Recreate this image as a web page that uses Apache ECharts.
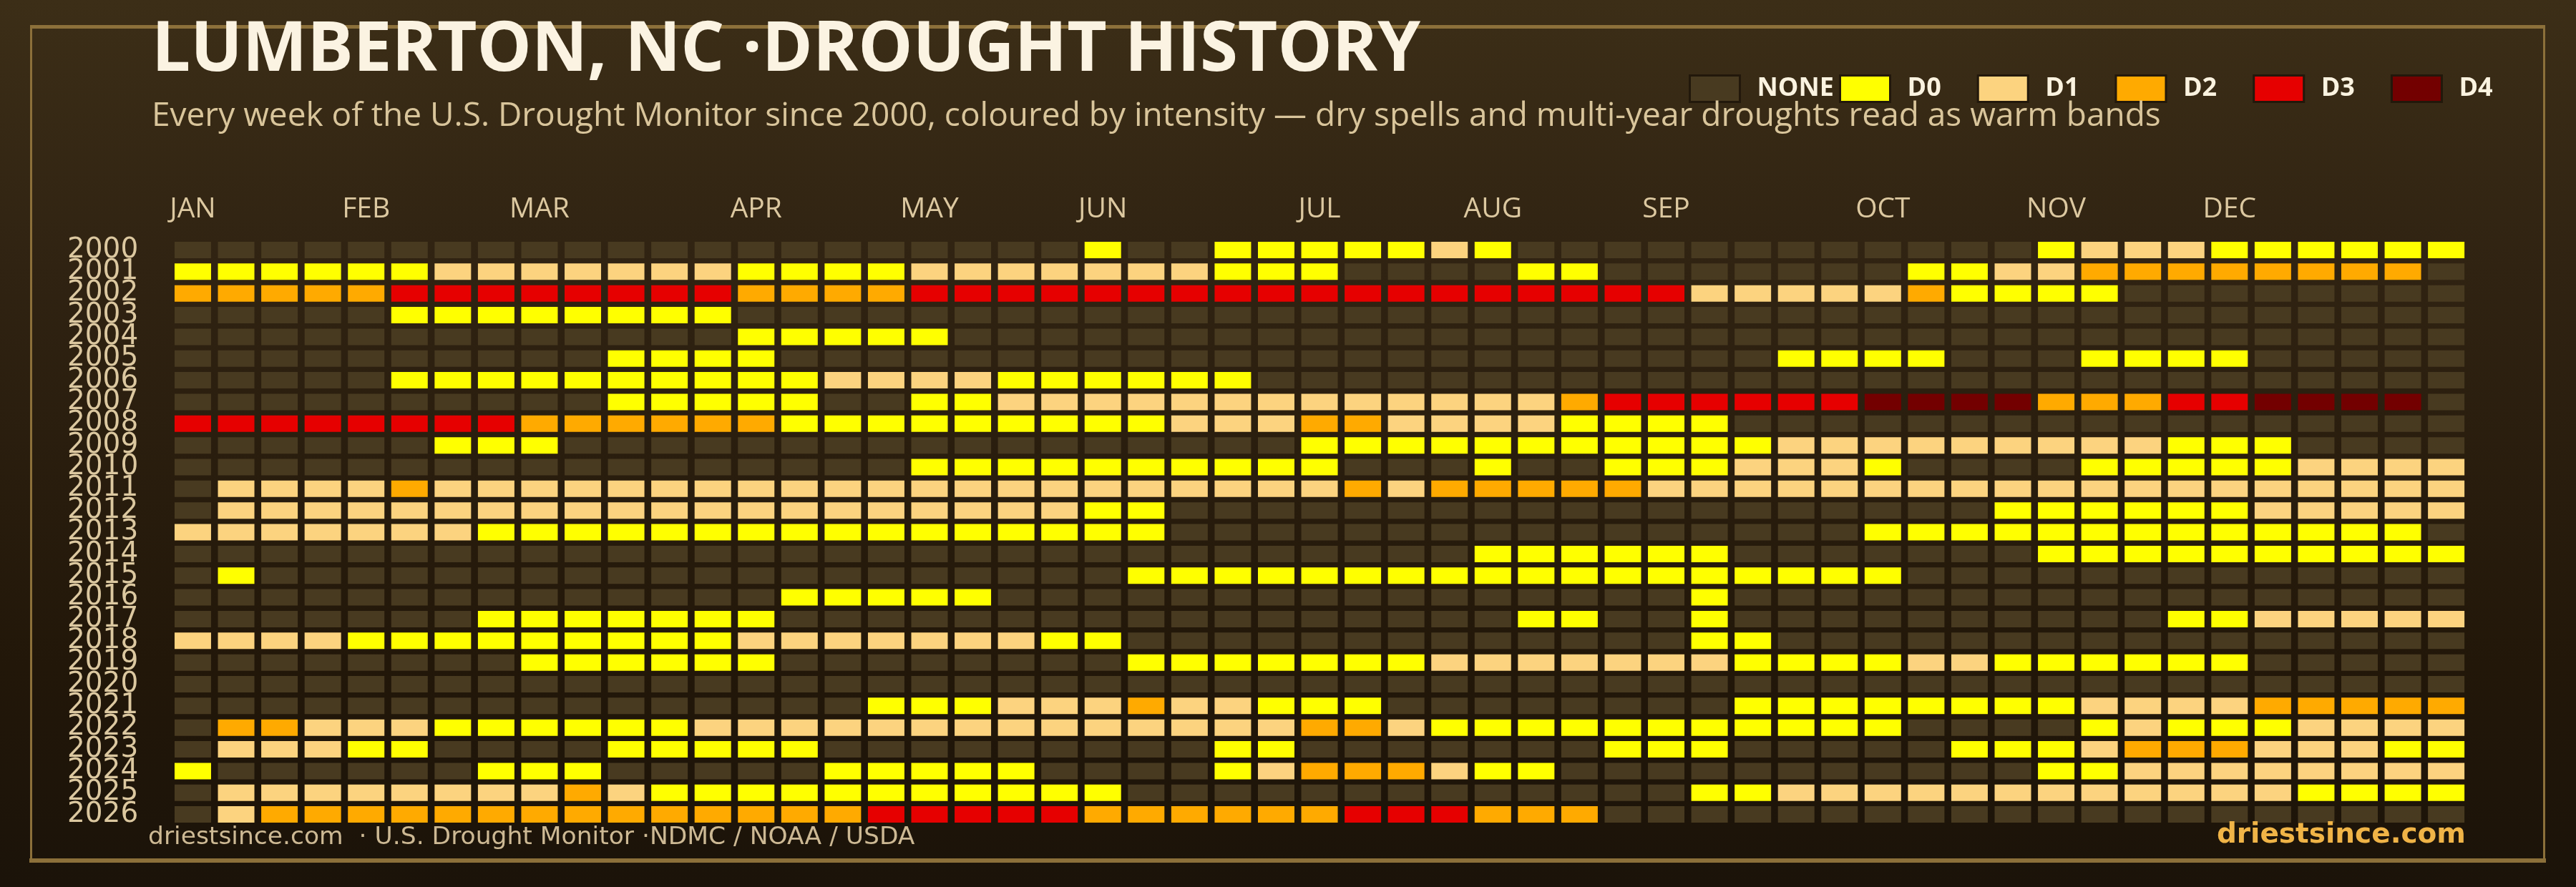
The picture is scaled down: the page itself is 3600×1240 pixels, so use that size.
<!DOCTYPE html>
<html><head><meta charset="utf-8">
<script src="https://cdn.jsdelivr.net/npm/echarts@6/dist/echarts.min.js"></script>
<style>html,body{margin:0;padding:0;background:#1c140a}#c{width:3600px;height:1240px}</style>
</head><body><div id="c"></div>
<script>
// ---------------- DATA ----------------
const YEARS = ['2000','2001','2002','2003','2004','2005','2006','2007','2008','2009','2010','2011','2012','2013',
  '2014','2015','2016','2017','2018','2019','2020','2021','2022','2023','2024','2025','2026'];
const WEEK_COUNT = 53;
const MONTHS = ['JAN','FEB','MAR','APR','MAY','JUN','JUL','AUG','SEP','OCT','NOV','DEC'];
const MONTH_START_WEEK = [0, 4, 8, 13, 17, 21, 26, 30, 34, 39, 43, 47];
const LEVELS = ['NONE', 'D0', 'D1', 'D2', 'D3', 'D4'];
// One string per year, one character per week ('-' = none, '0'..'4' = D0..D4); spaces only group 10 weeks.
const DROUGHT_WEEKS = [
  "---------- ---------- -0--000001 0--------- ---0111000 000", // 2000
  "0000001111 1110000111 1111000--- -00------- 0011222222 22-", // 2001
  "2222233333 3332222333 3333333333 3333311111 20000----- ---", // 2002
  "-----00000 000------- ---------- ---------- ---------- ---", // 2003
  "---------- ---00000-- ---------- ---------- ---------- ---", // 2004
  "---------- 0000------ ---------- -------000 0---0000-- ---", // 2005
  "-----00000 0000011110 00000----- ---------- ---------- ---", // 2006
  "---------- 00000--001 1111111111 1123333334 4442223344 44-", // 2007
  "3333333322 2222000000 0001112211 110000---- ---------- ---", // 2008
  "------000- ---------- ------0000 0000000111 111111000- ---", // 2009
  "---------- -------000 0000000--- 0--0001110 ----000001 111", // 2010
  "-111121111 1111111111 1111111212 2222111111 1111111111 111", // 2011
  "-111111111 1111111111 100------- ---------- --00000011 111", // 2012
  "1111111000 0000000000 000------- ---------0 0000000000 00-", // 2013
  "---------- ---------- ---------- 000000---- ---0000000 000", // 2014
  "-0-------- ---------- --00000000 0000000000 ---------- ---", // 2015
  "---------- ----00000- ---------- -----0---- ---------- ---", // 2016
  "-------000 0000------ ---------- -00--0---- ------0011 111", // 2017
  "1111000000 0001111111 00-------- -----00--- ---------- ---", // 2018
  "--------00 0000------ --00000001 1111110000 11000000-- ---", // 2019
  "---------- ---------- ---------- ---------- ---------- ---", // 2020
  "---------- ------0001 11211000-- ------0000 0000111122 222", // 2021
  "-221110000 0011111111 1111112210 0000000000 ----010001 111", // 2022
  "-11100---- 00000----- ----00---- ---000---- -000122211 100", // 2023
  "0------000 -----00000 ----012221 00-------- ---0011111 111", // 2024
  "-111111112 1000000000 00-------- -----00111 1111111110 000", // 2025
  "-122222222 2222223333 3222222333 222------- ---------- ---"  // 2026
];
// ---------------- STYLE ----------------
const LEVEL_COLORS = ['#483a20', '#ffff00', '#fcd37f', '#ffaa00', '#e60000', '#730000'];
const FONT = '"Open Sans", "Noto Sans", sans-serif';
const FONT_DV = '"DejaVu Sans", sans-serif';

const weekCats = [];
for (let i = 0; i < WEEK_COUNT; i++) weekCats.push('W' + (i + 1));

const seriesData = LEVELS.map(() => []);
DROUGHT_WEEKS.forEach((row, y) => {
  const codes = row.replace(/ /g, '');
  if (codes.length !== WEEK_COUNT) console.error('bad row', YEARS[y], codes.length);
  for (let w = 0; w < codes.length; w++) {
    const c = codes[w];
    const lvl = c === '-' ? 0 : (parseInt(c, 10) + 1);
    seriesData[lvl].push([w, y]);
  }
});

const chart = echarts.init(document.getElementById('c'), null, {renderer: 'canvas'});

const GRID = {left: 239.2, top: 334.3, width: 3209.7, height: 819.5};

const legendBase = {
  top: 104, padding: 0, orient: 'horizontal',
  itemWidth: 70, itemHeight: 37, itemGap: 50, icon: 'rect',
  itemStyle: {borderColor: '#22180b', borderWidth: 3},
  textStyle: {color: '#fbf3e0', fontFamily: FONT, fontWeight: 'bold', fontSize: 36, padding: [0, 0, 0, 19]},
  selectedMode: false
};

const option = {
  animation: false,
  backgroundColor: '#1c140a',
  grid: {left: GRID.left, top: GRID.top, width: GRID.width, height: GRID.height, containLabel: false},
  xAxis: {
    type: 'category', data: weekCats, position: 'top', boundaryGap: true,
    axisLine: {show: false}, axisTick: {show: false}, splitLine: {show: false},
    axisLabel: {
      interval: (idx) => MONTH_START_WEEK.indexOf(idx) >= 0,
      formatter: (v, idx) => { const k = MONTH_START_WEEK.indexOf(idx); return k >= 0 ? MONTHS[k] : ''; },
      color: '#dcc8a0', fontFamily: FONT, fontSize: 39, margin: 22
    }
  },
  yAxis: {
    type: 'category', data: YEARS, inverse: true, boundaryGap: true,
    axisLine: {show: false}, axisTick: {show: false}, splitLine: {show: false},
    axisLabel: {interval: 0, color: '#dcc8a0', fontFamily: FONT_DV, fontSize: 39, margin: 46}
  },
  legend: [
    Object.assign({}, legendBase, {left: 2360, data: [LEVELS[0]]}),
    Object.assign({}, legendBase, {left: 2570, data: LEVELS.slice(1)})
  ],
  graphic: [
    {type: 'rect', z: -10, silent: true, shape: {x: 0, y: 0, width: 3600, height: 1240},
     style: {fill: new echarts.graphic.LinearGradient(0, 0, 0, 1, [
       {offset: 0, color: '#3c2e17'}, {offset: 0.3, color: '#302312'},
       {offset: 0.75, color: '#221709'}, {offset: 1, color: '#1b1309'}])}},
    {type: 'rect', z: -5, silent: true, shape: {x: 43.5, y: 38, width: 3512, height: 1164},
     style: {fill: null, stroke: '#8c703a', lineWidth: 3}},
    {type: 'rect', z: -5, silent: true, shape: {x: 42, y: 35, width: 3515, height: 5}, style: {fill: '#8c703a'}},
    {type: 'rect', z: -5, silent: true, shape: {x: 41, y: 1200, width: 3517, height: 6}, style: {fill: '#8c703a'}},
    {type: 'text', z: 10, x: 212, y: 72, silent: true,
     style: {text: 'LUMBERTON, NC \u00b7DROUGHT HISTORY', fill: '#fbf3e2', fontFamily: FONT, fontWeight: 'bold', fontSize: 96, align: 'left', verticalAlign: 'middle'}},
    {type: 'text', z: 10, x: 212, y: 163, silent: true,
     style: {text: 'Every week of the U.S. Drought Monitor since 2000, coloured by intensity \u2014 dry spells and multi-year droughts read as warm bands',
       fill: '#d9c59b', fontFamily: FONT, fontSize: 46, align: 'left', verticalAlign: 'middle'}},
    {type: 'text', z: 10, x: 207, y: 1171, silent: true,
     style: {text: 'driestsince.com  \u00b7 U.S. Drought Monitor \u00b7NDMC / NOAA / USDA', fill: '#cdb994', fontFamily: FONT_DV, fontSize: 34.5, align: 'left', verticalAlign: 'middle'}},
    {type: 'text', z: 10, x: 3446, y: 1168, silent: true,
     style: {text: 'driestsince.com', fill: '#f0b447', fontFamily: FONT_DV, fontWeight: 'bold', fontSize: 39, align: 'right', verticalAlign: 'middle'}}
  ],
  series: LEVELS.map((name, i) => ({
    type: 'scatter', name: name, data: seriesData[i],
    symbol: 'rect', symbolSize: [51, 23], silent: true,
    itemStyle: {color: LEVEL_COLORS[i], opacity: 1}
  }))
};
chart.setOption(option);
</script>
</body></html>
